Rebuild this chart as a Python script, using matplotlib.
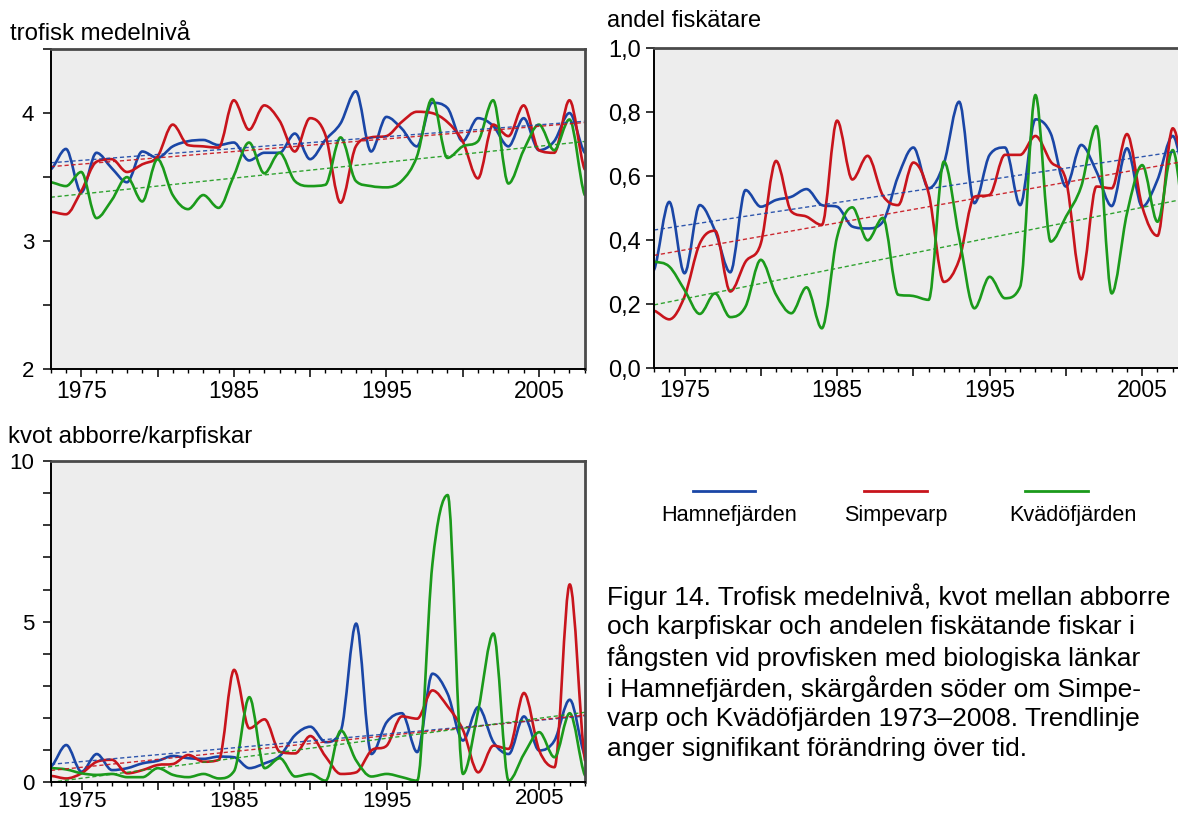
import numpy as np
import matplotlib
matplotlib.use("Agg")
import matplotlib.pyplot as plt
import matplotlib.transforms as mtransforms
from matplotlib.path import Path
from matplotlib.patches import PathPatch
from matplotlib.lines import Line2D
from matplotlib.ticker import FixedLocator, FuncFormatter

plt.rcParams['font.family'] = ['Liberation Sans', 'DejaVu Sans']

years = np.arange(1973, 2009)
stations = ["Hamnefjärden", "Simpevarp", "Kvädöfjärden"]
colors = ["#1a46a6", "#c8141c", "#1b9a1b"]

# trofisk medelnivå
hamn_trof = [3.56, 3.72, 3.38, 3.69, 3.57, 3.46, 3.70, 3.65, 3.74, 3.78, 3.79, 3.75,
             3.77, 3.63, 3.69, 3.69, 3.84, 3.64, 3.79, 3.92, 4.17, 3.70, 3.97, 3.88,
             3.74, 4.08, 4.04, 3.78, 3.96, 3.90, 3.74, 3.96, 3.71, 3.78, 4.00, 3.69]
simp_trof = [3.23, 3.21, 3.39, 3.62, 3.64, 3.54, 3.60, 3.66, 3.91, 3.75, 3.74, 3.73,
             4.10, 3.87, 4.06, 3.94, 3.70, 3.96, 3.83, 3.30, 3.74, 3.81, 3.82, 3.93,
             4.01, 4.00, 3.93, 3.78, 3.49, 3.91, 3.82, 4.06, 3.71, 3.69, 4.10, 3.56]
kvad_trof = [3.46, 3.43, 3.54, 3.18, 3.32, 3.50, 3.31, 3.64, 3.36, 3.25, 3.36, 3.26,
             3.51, 3.77, 3.53, 3.69, 3.47, 3.43, 3.44, 3.81, 3.47, 3.43, 3.42, 3.47,
             3.66, 4.11, 3.65, 3.74, 3.78, 4.10, 3.45, 3.71, 3.91, 3.71, 3.95, 3.36]

# andel fiskätare
hamn_fisk = [0.307, 0.52, 0.297, 0.51, 0.43, 0.30, 0.557, 0.505, 0.526, 0.536, 0.56, 0.51,
             0.505, 0.443, 0.437, 0.458, 0.60, 0.69, 0.5625, 0.64, 0.833, 0.516, 0.667, 0.69,
             0.51, 0.778, 0.734, 0.568, 0.698, 0.615, 0.507, 0.6875, 0.505, 0.589, 0.726, 0.55]
simp_fisk = [0.18, 0.153, 0.224, 0.39, 0.43, 0.24, 0.333, 0.39, 0.648, 0.49, 0.474, 0.448,
             0.774, 0.59, 0.664, 0.54, 0.51, 0.643, 0.547, 0.27, 0.339, 0.536, 0.542, 0.667,
             0.667, 0.726, 0.646, 0.589, 0.278, 0.568, 0.5625, 0.732, 0.505, 0.414, 0.75, 0.57]
kvad_fisk = [0.333, 0.318, 0.245, 0.17, 0.234, 0.16, 0.193, 0.339, 0.23, 0.172, 0.253, 0.125,
             0.41, 0.503, 0.40, 0.47, 0.23, 0.226, 0.214, 0.646, 0.41, 0.1875, 0.286, 0.219,
             0.255, 0.854, 0.396, 0.474, 0.568, 0.757, 0.234, 0.484, 0.635, 0.458, 0.682, 0.36]

# kvot abborre/karpfiskar
hamn_kvot = [0.49, 1.16, 0.33, 0.88, 0.38, 0.44, 0.59, 0.67, 0.82, 0.75, 0.73, 0.80,
             0.78, 0.44, 0.59, 0.82, 1.47, 1.73, 1.25, 1.61, 4.94, 0.88, 1.87, 2.15,
             0.94, 3.38, 2.75, 1.30, 2.34, 1.25, 0.88, 2.05, 0.99, 1.30, 2.57, 0.83]
simp_kvot = [0.20, 0.12, 0.28, 0.64, 0.70, 0.28, 0.38, 0.54, 0.57, 0.85, 0.64, 0.70,
             3.50, 1.68, 1.96, 0.95, 0.90, 1.44, 0.80, 0.26, 0.31, 0.99, 1.14, 2.05,
             1.98, 2.86, 2.36, 1.63, 0.31, 1.14, 1.04, 2.78, 0.99, 0.47, 6.16, 0.68]
kvad_kvot = [0.44, 0.40, 0.28, 0.23, 0.26, 0.16, 0.16, 0.44, 0.23, 0.16, 0.26, 0.12,
             0.35, 2.65, 0.44, 0.75, 0.18, 0.26, 0.05, 1.61, 0.68, 0.18, 0.26, 0.16,
             0.05, 6.80, 8.94, 0.26, 2.23, 4.63, 0.05, 0.88, 1.56, 0.78, 2.15, 0.21]

caption = ["Figur 14. Trofisk medelnivå, kvot mellan abborre",
           "och karpfiskar och andelen fiskätande fiskar i",
           "fångsten vid provfisken med biologiska länkar",
           "i Hamnefjärden, skärgården söder om Simpe-",
           "varp och Kvädöfjärden 1973–2008. Trendlinje",
           "anger signifikant förändring över tid."]

W, H = 1178, 814
fig = plt.figure(figsize=(W / 100, H / 100), dpi=100)


def px_axes(left, top, right, bottom):
    return fig.add_axes([left / W, 1 - bottom / H, (right - left) / W, (bottom - top) / H])


def smooth_path(x, y):
    # smoothed line through the yearly points: cubic Bezier segments,
    # flat at local peaks/troughs and slope-limited so it never overshoots
    x = np.asarray(x, float)
    y = np.asarray(y, float)
    n = len(y)
    d = np.diff(y) / np.diff(x)
    m = np.zeros(n)
    m[0], m[-1] = d[0] / 2, d[-1] / 2
    for i in range(1, n - 1):
        if d[i - 1] * d[i] <= 0:
            m[i] = 0.0
        else:
            m[i] = (d[i - 1] + d[i]) / 2
            lim = 3 * min(abs(d[i - 1]), abs(d[i]))
            m[i] = np.sign(m[i]) * min(abs(m[i]), lim)
    verts, codes = [(x[0], y[0])], [Path.MOVETO]
    for i in range(n - 1):
        h = (x[i + 1] - x[i]) / 3
        verts += [(x[i] + h, y[i] + m[i] * h), (x[i + 1] - h, y[i + 1] - m[i + 1] * h),
                  (x[i + 1], y[i + 1])]
        codes += [Path.CURVE4] * 3
    return Path(verts, codes)


def style_axes(ax, ylim, yticks, ylabels, yminor=None, ysize=16, ypad=6, xpad=2):
    ax.set_facecolor("#ededed")
    ax.set_xlim(1973, 2008)
    ax.set_ylim(*ylim)
    ax.xaxis.set_major_locator(FixedLocator(range(1975, 2009, 5)))
    ax.xaxis.set_major_formatter(FuncFormatter(lambda v, p: str(int(v)) if int(v) % 10 == 5 else ""))
    ax.xaxis.set_minor_locator(FixedLocator(years))
    ax.set_yticks(yticks)
    ax.set_yticklabels(ylabels)
    if yminor is not None:
        ax.yaxis.set_minor_locator(FixedLocator(yminor))
    ax.tick_params(axis="x", which="major", length=6, width=1.1, pad=xpad, labelsize=16.5)
    ax.tick_params(axis="x", which="minor", length=3.2, width=1.0)
    ax.tick_params(axis="y", which="both", length=6, width=1.1, pad=ypad, labelsize=ysize)
    for side in ("left", "bottom"):
        ax.spines[side].set_linewidth(1.4)
        ax.spines[side].set_color("black")
    for side in ("top", "right"):
        ax.spines[side].set_linewidth(2.0)
        ax.spines[side].set_color("#4a4a4a")


def draw_series(ax, series):
    for vals, c in zip(series, colors):
        vals = np.asarray(vals)
        coef = np.polyfit(years, vals, 1)
        ax.plot(years, np.polyval(coef, years), color=c, lw=1.0, ls=(0, (3, 2)), alpha=0.9)
    for vals, c in zip(series, colors):
        ax.add_patch(PathPatch(smooth_path(years, vals), fc="none", ec=c, lw=1.9,
                               capstyle="round", joinstyle="round"))


# trofisk medelnivå
ax1 = px_axes(50.7, 49, 584.7, 369.3)
style_axes(ax1, (2, 4.5), [2, 3, 4], ["2", "3", "4"], yminor=[2.5, 3.5, 4.5])
draw_series(ax1, [hamn_trof, simp_trof, kvad_trof])
fig.text(10 / W, 1 - 34 / H, "trofisk medelnivå", fontsize=17.3, va="center", ha="left")

# andel fiskätare (the panel runs past the page edge)
ax2 = px_axes(654, 48.3, 1188, 368.3)
style_axes(ax2, (0, 1.0), np.arange(0, 1.01, 0.2),
           [f"{v:.1f}".replace(".", ",") for v in np.arange(0, 1.01, 0.2)],
           ysize=17, ypad=3.5)
draw_series(ax2, [hamn_fisk, simp_fisk, kvad_fisk])
fig.text(607 / W, 1 - 21 / H, "andel fiskätare", fontsize=17, va="center", ha="left")

# kvot abborre/karpfiskar
ax3 = px_axes(51, 461, 585, 782.3)
style_axes(ax3, (0, 10), [0, 5, 10], ["0", "5", "10"], yminor=range(0, 11), xpad=0.2)
ax3.tick_params(axis="x", which="major", labelsize=16)
draw_series(ax3, [hamn_kvot, simp_kvot, kvad_kvot])
fig.text(8 / W, 1 - 437 / H, "kvot abborre/karpfiskar", fontsize=17.3, va="center", ha="left")

# the last year label of this panel sits a little higher
fig.canvas.draw()
lift = mtransforms.ScaledTranslation(0, 3 / 100, fig.dpi_scale_trans)
for lbl in ax3.get_xticklabels():
    if lbl.get_text() == "2005":
        lbl.set_transform(lbl.get_transform() + lift)

# legend
legend_lines = [(693, 755, 729), (864, 927, 896), (1025, 1088, 1073)]
for (x0, x1, xt), name, c in zip(legend_lines, stations, colors):
    fig.add_artist(Line2D([x0 / W, x1 / W], [1 - 491 / H] * 2, color=c, lw=2.0,
                          transform=fig.transFigure))
    fig.text(xt / W, 1 - 515 / H, name, fontsize=15.6, ha="center", va="center")

# figure caption
for i, line in enumerate(caption):
    fig.text(607 / W, 1 - (597 + i * 30.4) / H, line, fontsize=19, ha="left", va="center")

fig.savefig("out.png", dpi=100)
